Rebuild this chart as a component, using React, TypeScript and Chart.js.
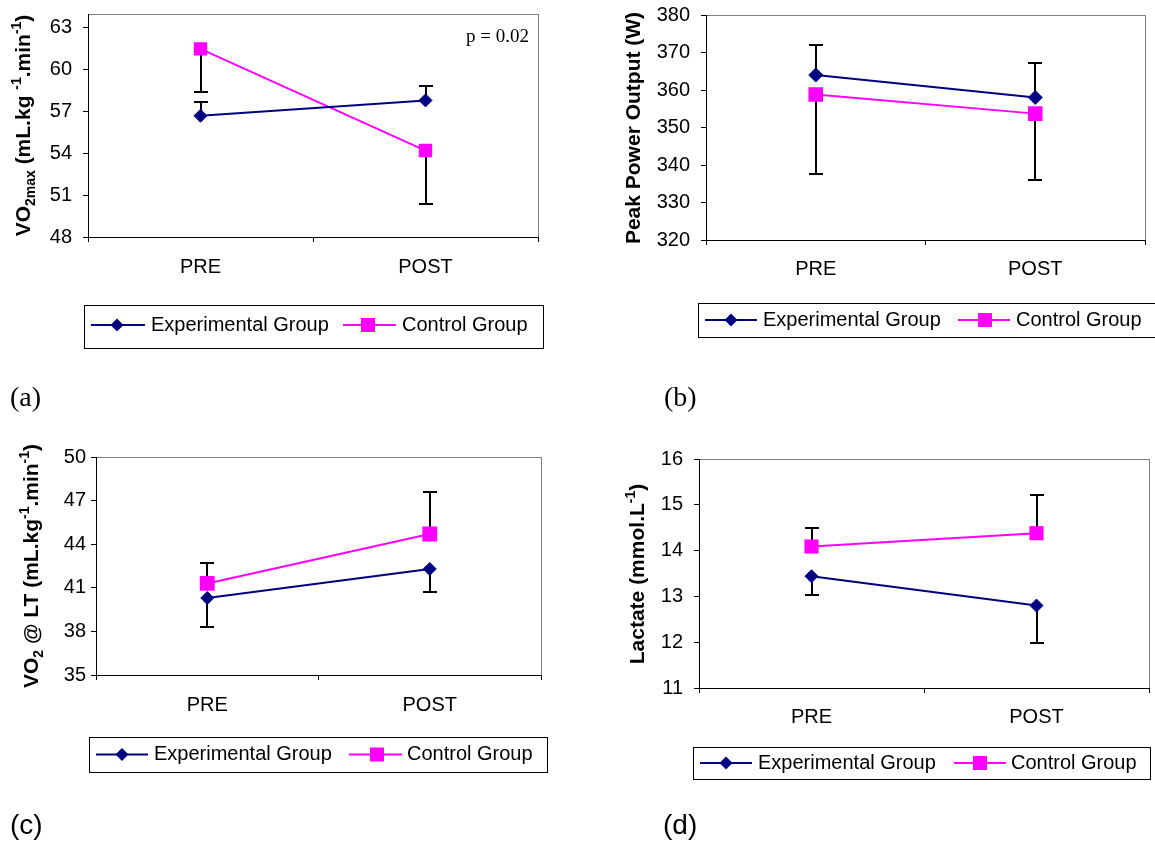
import React, { useEffect, useRef } from "react";
import { Chart, registerables } from "chart.js";

Chart.register(...registerables);

const NAVY = "#000080";
const MAGENTA = "#FF00FF";
const SANS = '"Liberation Sans", Arial, sans-serif';
const SERIF = '"Liberation Serif", "Times New Roman", serif';

const categories = ["PRE", "POST"];
const seriesNames = ["Experimental Group", "Control Group"];

// (a) VO2max
const vo2maxExp = [56.7, 57.8];
const vo2maxExpSD = [1.0, 1.0]; // bar drawn upward
const vo2maxCtrl = [61.5, 54.2];
const vo2maxCtrlSD = [3.1, 3.8]; // bar drawn downward
const vo2maxTicks = [48, 51, 54, 57, 60, 63];
const vo2maxRange = [48, 64];

// (b) Peak power output
const ppoExp = [364, 358];
const ppoExpSD = [8, 9.2]; // upward
const ppoCtrl = [358.8, 353.7];
const ppoCtrlSD = [21.2, 17.6]; // downward
const ppoTicks = [320, 330, 340, 350, 360, 370, 380];
const ppoRange = [320, 380];

// (c) VO2 @ LT
const vo2ltExp = [40.3, 42.3];
const vo2ltExpSD = [2.0, 1.6]; // downward
const vo2ltCtrl = [41.3, 44.7];
const vo2ltCtrlSD = [1.4, 2.9]; // upward
const vo2ltTicks = [35, 38, 41, 44, 47, 50];
const vo2ltRange = [35, 50];

// (d) Lactate
const lacExp = [13.44, 12.8];
const lacExpSD = [0.4, 0.82]; // downward
const lacCtrl = [14.09, 14.38];
const lacCtrlSD = [0.4, 0.84]; // upward
const lacTicks = [11, 12, 13, 14, 15, 16];
const lacRange = [11, 16];

type Seg = { t: string; k?: "sub" | "sup" };

const titleA: Seg[] = [
  { t: "VO" }, { t: "2max", k: "sub" }, { t: " (mL.kg " }, { t: "-1", k: "sup" },
  { t: ".min" }, { t: "-1", k: "sup" }, { t: ")" },
];
const titleB: Seg[] = [{ t: "Peak Power Output (W)" }];
const titleC: Seg[] = [
  { t: "VO" }, { t: "2", k: "sub" }, { t: " @ LT (mL.kg" }, { t: "-1", k: "sup" },
  { t: ".min" }, { t: "-1", k: "sup" }, { t: ")" },
];
const titleD: Seg[] = [{ t: "Lactate (mmol.L" }, { t: "-1", k: "sup" }, { t: ")" }];

interface PanelDef {
  key: string;
  canvas: { x: number; y: number; w: number; h: number };
  plot: { l: number; r: number; t: number; b: number };
  range: number[];
  ticks: number[];
  exp: number[]; expSD: number[]; expDir: number;
  ctrl: number[]; ctrlSD: number[]; ctrlDir: number;
  title: Seg[]; titleX: number; titleY: number;
  yLabelRight: number; xLabelY: number;
  legend: { l: number; r: number; t: number; b: number; y: number; e: number[]; c: number[] };
  dR: number; sR: number;
  tag: { t: string; x: number; y: number; serif: boolean };
  note?: { t: string; x: number; y: number };
}

const panels: PanelDef[] = [
  {
    key: "a",
    canvas: { x: 0, y: 0, w: 577, h: 423 },
    plot: { l: 88, r: 538, t: 14, b: 237 },
    range: vo2maxRange, ticks: vo2maxTicks,
    exp: vo2maxExp, expSD: vo2maxExpSD, expDir: 1,
    ctrl: vo2maxCtrl, ctrlSD: vo2maxCtrlSD, ctrlDir: -1,
    title: titleA, titleX: 22.5, titleY: 125.5,
    yLabelRight: 72, xLabelY: 267,
    legend: { l: 84, r: 543, t: 305, b: 348, y: 325, e: [91, 145, 117, 151], c: [343, 396, 368, 402] },
    dR: 6.5, sR: 9.5,
    tag: { t: "(a)", x: 10, y: 399, serif: true },
    note: { t: "p = 0.02", x: 529, y: 37 },
  },
  {
    key: "b",
    canvas: { x: 577, y: 0, w: 578, h: 423 },
    plot: { l: 706, r: 1145, t: 15, b: 240 },
    range: ppoRange, ticks: ppoTicks,
    exp: ppoExp, expSD: ppoExpSD, expDir: 1,
    ctrl: ppoCtrl, ctrlSD: ppoCtrlSD, ctrlDir: -1,
    title: titleB, titleX: 632, titleY: 128,
    yLabelRight: 690, xLabelY: 269.5,
    legend: { l: 698, r: 1165, t: 303, b: 337, y: 320, e: [705, 757, 731, 763], c: [958, 1010, 985, 1016] },
    dR: 7, sR: 10.3,
    tag: { t: "(b)", x: 664, y: 399, serif: true },
  },
  {
    key: "c",
    canvas: { x: 0, y: 423, w: 577, h: 423 },
    plot: { l: 96, r: 541, t: 457, b: 675 },
    range: vo2ltRange, ticks: vo2ltTicks,
    exp: vo2ltExp, expSD: vo2ltExpSD, expDir: -1,
    ctrl: vo2ltCtrl, ctrlSD: vo2ltCtrlSD, ctrlDir: 1,
    title: titleC, titleX: 30.5, titleY: 566,
    yLabelRight: 86, xLabelY: 705,
    legend: { l: 89, r: 547, t: 737, b: 772, y: 754.5, e: [96, 148, 122, 154], c: [349, 402, 377, 407] },
    dR: 6.5, sR: 10.5,
    tag: { t: "(c)", x: 10, y: 826, serif: false },
  },
  {
    key: "d",
    canvas: { x: 577, y: 423, w: 578, h: 423 },
    plot: { l: 699, r: 1149, t: 459, b: 688 },
    range: lacRange, ticks: lacTicks,
    exp: lacExp, expSD: lacExpSD, expDir: -1,
    ctrl: lacCtrl, ctrlSD: lacCtrlSD, ctrlDir: 1,
    title: titleD, titleX: 636, titleY: 574,
    yLabelRight: 683, xLabelY: 717.5,
    legend: { l: 693, r: 1150, t: 747, b: 779, y: 763, e: [700, 752, 726, 758], c: [954, 1006, 980, 1011] },
    dR: 6.5, sR: 10,
    tag: { t: "(d)", x: 663, y: 826, serif: false },
  },
];

const TICK_FONT = 20;
const LEGEND_FONT = 20;
const TITLE_FONT = 21;
const TICK_LEN = 5;

function drawRich(ctx: CanvasRenderingContext2D, segs: Seg[], cx: number, cy: number, size: number) {
  const mainFont = `bold ${size}px ${SANS}`;
  const small = Math.round(size * 0.65);
  const smallFont = `bold ${small}px ${SANS}`;
  let total = 0;
  const widths = segs.map((s) => {
    ctx.font = s.k ? smallFont : mainFont;
    const w = ctx.measureText(s.t).width;
    total += w;
    return w;
  });
  ctx.save();
  ctx.translate(cx, cy);
  ctx.rotate(-Math.PI / 2);
  ctx.textAlign = "left";
  ctx.textBaseline = "alphabetic";
  ctx.fillStyle = "#000";
  let x = -total / 2;
  const base = (size * 0.716) / 2;
  segs.forEach((s, i) => {
    ctx.font = s.k ? smallFont : mainFont;
    let y = base;
    if (s.k === "sub") y += size * 0.25;
    if (s.k === "sup") y -= size * 0.42;
    ctx.fillText(s.t, x, y);
    x += widths[i];
  });
  ctx.restore();
}

function drawDiamond(ctx: CanvasRenderingContext2D, x: number, y: number, r: number) {
  ctx.beginPath();
  ctx.moveTo(x - r, y);
  ctx.lineTo(x, y - r);
  ctx.lineTo(x + r, y);
  ctx.lineTo(x, y + r);
  ctx.closePath();
  ctx.fillStyle = NAVY;
  ctx.fill();
}

function drawSquare(ctx: CanvasRenderingContext2D, x: number, y: number, half: number) {
  ctx.fillStyle = MAGENTA;
  ctx.fillRect(x - half, y - half, half * 2, half * 2);
}

function PanelChart({ p }: { p: PanelDef }) {
  const ref = useRef<HTMLCanvasElement | null>(null);
  useEffect(() => {
    const canvas = ref.current;
    if (!canvas) return;
    const ox = p.canvas.x;
    const oy = p.canvas.y;
    const lineH = TICK_FONT * 1.2;

    const plugin = {
      id: "panelDecor" + p.key,
      beforeDraw(chart: any) {
        const ctx = chart.ctx as CanvasRenderingContext2D;
        const a = chart.chartArea;
        ctx.save();
        ctx.strokeStyle = "#808080";
        ctx.lineWidth = 1;
        const l = Math.round(a.left), t = Math.round(a.top);
        const r = Math.round(a.right), b = Math.round(a.bottom);
        ctx.strokeRect(l + 0.5, t + 0.5, r - l, b - t);
        ctx.restore();
      },
      beforeDatasetsDraw(chart: any) {
        const ctx = chart.ctx as CanvasRenderingContext2D;
        const yScale = chart.scales.y;
        const sets = [
          { vals: p.exp, sd: p.expSD, dir: p.expDir, idx: 0 },
          { vals: p.ctrl, sd: p.ctrlSD, dir: p.ctrlDir, idx: 1 },
        ];
        ctx.save();
        ctx.strokeStyle = "#000";
        ctx.lineWidth = 2;
        sets.forEach((s) => {
          const meta = chart.getDatasetMeta(s.idx);
          s.vals.forEach((v, j) => {
            const x = Math.round(meta.data[j].x);
            const y0 = yScale.getPixelForValue(v);
            const y1 = Math.round(yScale.getPixelForValue(v + s.dir * s.sd[j]));
            ctx.beginPath();
            ctx.moveTo(x, y0);
            ctx.lineTo(x, y1);
            ctx.moveTo(x - 7, y1);
            ctx.lineTo(x + 7, y1);
            ctx.stroke();
          });
        });
        ctx.restore();
      },
      afterDraw(chart: any) {
        const ctx = chart.ctx as CanvasRenderingContext2D;
        drawRich(ctx, p.title, p.titleX - ox, p.titleY - oy, TITLE_FONT);
        const L = p.legend;
        ctx.save();
        ctx.strokeStyle = "#000";
        ctx.lineWidth = 1;
        ctx.strokeRect(Math.round(L.l - ox) + 0.5, Math.round(L.t - oy) + 0.5, Math.round(L.r - L.l), Math.round(L.b - L.t));
        const ly = L.y - oy;
        ctx.lineWidth = 2;
        ctx.strokeStyle = NAVY;
        ctx.beginPath();
        ctx.moveTo(L.e[0] - ox, ly);
        ctx.lineTo(L.e[1] - ox, ly);
        ctx.stroke();
        drawDiamond(ctx, L.e[2] - ox, ly, 6.5);
        ctx.strokeStyle = MAGENTA;
        ctx.beginPath();
        ctx.moveTo(L.c[0] - ox, ly);
        ctx.lineTo(L.c[1] - ox, ly);
        ctx.stroke();
        drawSquare(ctx, L.c[2] - ox, ly, 7);
        ctx.fillStyle = "#000";
        ctx.font = `${LEGEND_FONT}px ${SANS}`;
        ctx.textAlign = "left";
        ctx.textBaseline = "middle";
        ctx.fillText(seriesNames[0], L.e[3] - ox, ly);
        ctx.fillText(seriesNames[1], L.c[3] - ox, ly);
        ctx.font = p.tag.serif ? `28px ${SERIF}` : `28px ${SANS}`;
        ctx.fillText(p.tag.t, p.tag.x - ox, p.tag.y - oy);
        if (p.note) {
          ctx.font = `19px ${SERIF}`;
          ctx.textAlign = "right";
          ctx.fillText(p.note.t, p.note.x - ox, p.note.y - oy);
        }
        ctx.restore();
      },
    };

    const chart = new Chart(canvas, {
      type: "line",
      data: {
        labels: categories,
        datasets: [
          {
            label: seriesNames[0],
            data: p.exp,
            borderColor: NAVY,
            backgroundColor: NAVY,
            borderWidth: 2,
            pointStyle: "rectRot",
            pointRadius: p.dR,
            pointBackgroundColor: NAVY,
            pointBorderColor: NAVY,
            pointBorderWidth: 1,
            tension: 0,
          },
          {
            label: seriesNames[1],
            data: p.ctrl,
            borderColor: MAGENTA,
            backgroundColor: MAGENTA,
            borderWidth: 2,
            pointStyle: "rect",
            pointRadius: p.sR,
            pointBackgroundColor: MAGENTA,
            pointBorderColor: MAGENTA,
            pointBorderWidth: 0,
            tension: 0,
          },
        ],
      },
      options: {
        animation: false,
        responsive: false,
        events: [],
        layout: {
          autoPadding: false,
          padding: {
            top: p.plot.t - oy,
            right: ox + p.canvas.w - p.plot.r,
            left: 0,
            bottom: 0,
          },
        },
        plugins: {
          legend: { display: false },
          tooltip: { enabled: false },
          title: { display: false },
        },
        scales: {
          x: {
            type: "category",
            offset: true,
            grid: {
              display: true,
              offset: true,
              drawOnChartArea: false,
              drawTicks: true,
              tickLength: TICK_LEN,
              color: "#000",
            },
            border: { display: true, color: "#000", width: 1 },
            ticks: {
              color: "#000",
              font: { family: SANS, size: TICK_FONT },
              padding: p.xLabelY - p.plot.b - TICK_LEN - lineH / 2,
              maxRotation: 0,
              autoSkip: false,
            },
            afterFit: (s: any) => {
              s.height = oy + p.canvas.h - p.plot.b;
              s.paddingLeft = 0;
              s.paddingRight = 0;
            },
          },
          y: {
            type: "linear",
            min: p.range[0],
            max: p.range[1],
            grid: {
              display: true,
              drawOnChartArea: false,
              drawTicks: true,
              tickLength: TICK_LEN,
              color: "#000",
            },
            border: { display: true, color: "#000", width: 1 },
            ticks: {
              color: "#000",
              font: { family: SANS, size: TICK_FONT },
              padding: p.plot.l - TICK_LEN - p.yLabelRight,
            },
            afterBuildTicks: (s: any) => {
              s.ticks = p.ticks.map((v) => ({ value: v }));
            },
            afterFit: (s: any) => {
              s.width = p.plot.l - ox;
              s.paddingTop = 0;
              s.paddingBottom = 0;
            },
          },
        },
      },
      plugins: [plugin],
    } as any);
    return () => chart.destroy();
  }, [p]);

  return (
    <canvas
      ref={ref}
      width={p.canvas.w}
      height={p.canvas.h}
      style={{ position: "absolute", left: p.canvas.x, top: p.canvas.y, width: p.canvas.w, height: p.canvas.h }}
    />
  );
}

export default function App() {
  return (
    <div style={{ position: "absolute", left: 0, top: 0, width: 1155, height: 846, background: "#fff", overflow: "hidden" }}>
      {panels.map((p) => (
        <PanelChart key={p.key} p={p} />
      ))}
    </div>
  );
}
